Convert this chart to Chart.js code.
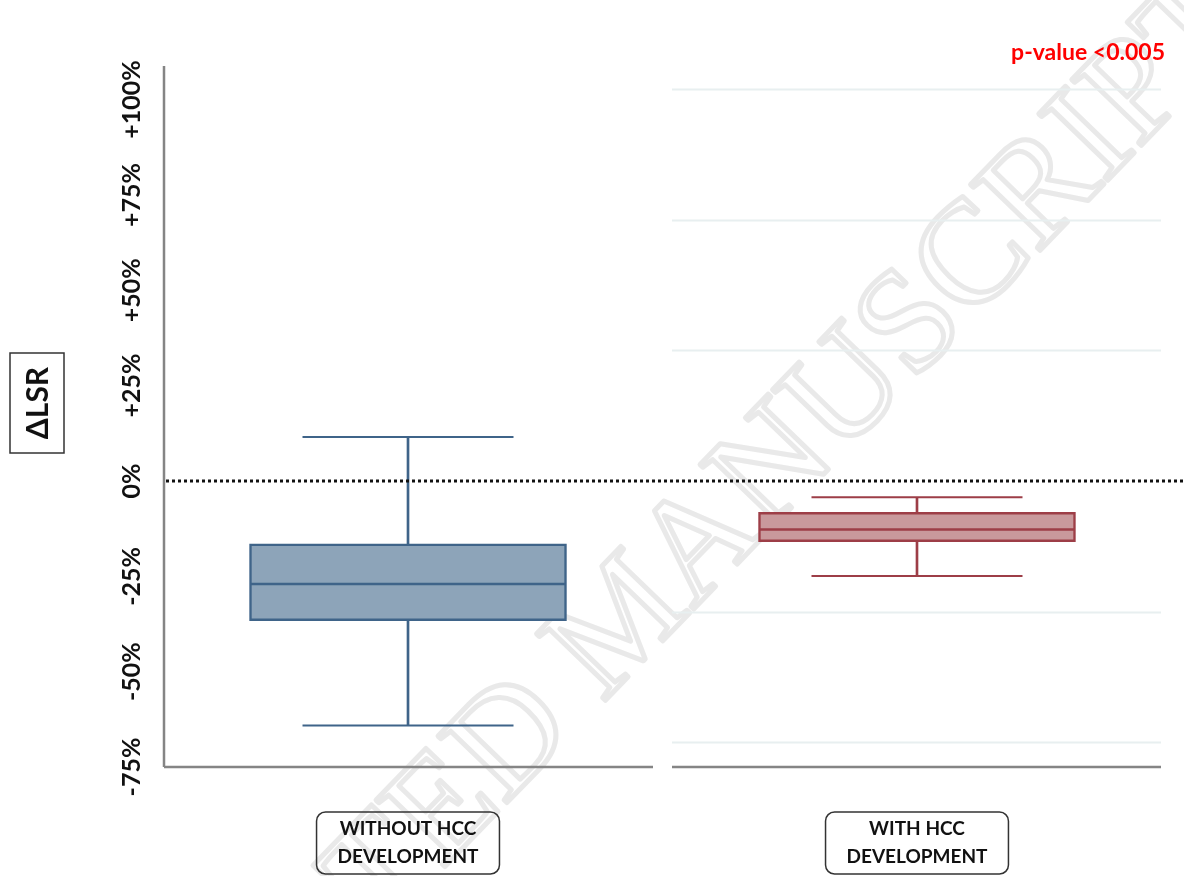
<!DOCTYPE html>
<html>
<head>
<meta charset="utf-8">
<script src="https://cdn.jsdelivr.net/npm/chart.js@4.4.1/dist/chart.umd.min.js"></script>
<style>
  html, body { margin: 0; padding: 0; background: #ffffff; }
  #wrap { width: 1184px; height: 876px; position: relative; }
</style>
</head>
<body>
<div id="wrap"><canvas id="c" width="1184" height="876"></canvas></div>
<script>
// Change in liver stiffness (ΔLSR, %) by HCC outcome
const groups = [['WITHOUT HCC', 'DEVELOPMENT'], ['WITH HCC', 'DEVELOPMENT']];
const whiskerLow  = [-64.1, -24.9];
const q1          = [-36.6, -15.9];
const median      = [-27.0, -12.7];
const q3          = [-16.5, -8.2];
const whiskerHigh = [11.5, -4.3];

const yTicks = [-75, -50, -25, 0, 25, 50, 75, 100];
const tickText = ['-75%', '-50%', '-25%', '0%', '+25%', '+50%', '+75%', '+100%'];
const panelGrid = [102.7, 68.5, 34.25, -34.25, -68.5];
const yTitle = 'ΔLSR';
const pValueText = 'p-value <0.005';
const stampText = ['ACCEPTED ', 'MANUSCRIPT'];

const fills   = ['#8da4b9', '#c9999c'];
const strokes = ['#3f6489', '#9d3e47'];

const FONT = 'Lato, "Open Sans", "DejaVu Sans", sans-serif';
const yMin = -75, yMax = 108.8;
const xMin = -0.4794, xMax = 1.4794;
const panelGap = 19;

const pts = arr => arr.map((v, i) => ({ x: i, y: v }));

const decor = {
  id: 'decor',
  beforeDraw(chart) {
    const { ctx, width, height } = chart;
    ctx.save();
    ctx.fillStyle = '#ffffff';
    ctx.fillRect(0, 0, width, height);
    // diagonal outlined stamp behind the plot
    ctx.translate(620, 630);
    ctx.rotate(-46 * Math.PI / 180);
    ctx.font = '146px "Liberation Serif", "DejaVu Serif", serif';
    ctx.textBaseline = 'middle';
    ctx.lineWidth = 5;
    ctx.lineJoin = 'round';
    ctx.strokeStyle = '#e9e9e9';
    const mHalf = ctx.measureText('M').width / 2;
    ctx.textAlign = 'left';
    ctx.strokeText(stampText[1], -mHalf, 0);
    ctx.textAlign = 'right';
    ctx.strokeText(stampText[0], -mHalf, 0);
    ctx.restore();
  },
  beforeDatasetsDraw(chart) {
    const { ctx, chartArea: a, scales: { x, y } } = chart;
    const mid = x.getPixelForValue(0.5);
    ctx.save();
    // faint reference lines of the right panel
    ctx.strokeStyle = '#e8eff0';
    ctx.lineWidth = 2;
    panelGrid.forEach(v => {
      const py = Math.round(y.getPixelForValue(v)) + 0.5;
      ctx.beginPath();
      ctx.moveTo(mid + panelGap / 2, py);
      ctx.lineTo(a.right, py);
      ctx.stroke();
    });
    // axes
    ctx.strokeStyle = '#858585';
    ctx.lineWidth = 2.5;
    ctx.beginPath();
    ctx.moveTo(a.left, a.top);
    ctx.lineTo(a.left, a.bottom);
    ctx.moveTo(a.left, a.bottom);
    ctx.lineTo(mid - panelGap / 2, a.bottom);
    ctx.moveTo(mid + panelGap / 2, a.bottom);
    ctx.lineTo(a.right, a.bottom);
    ctx.stroke();

    // rotated tick labels
    ctx.fillStyle = '#111111';
    ctx.font = 'bold 25px ' + FONT;
    ctx.textAlign = 'center';
    ctx.textBaseline = 'middle';
    yTicks.forEach((v, i) => {
      ctx.save();
      ctx.translate(a.left - 32, y.getPixelForValue(v));
      ctx.rotate(-Math.PI / 2);
      ctx.fillText(tickText[i], 0, 0);
      ctx.restore();
    });

    // boxed axis title
    ctx.save();
    ctx.translate(37, 403);
    ctx.rotate(-Math.PI / 2);
    ctx.font = 'bold 30px ' + FONT;
    ctx.fillText(yTitle, 0, 1);
    ctx.strokeStyle = '#333333';
    ctx.lineWidth = 1.5;
    ctx.strokeRect(-50, -27, 100, 54);
    ctx.restore();

    // category labels in rounded boxes
    ctx.font = 'bold 19px ' + FONT;
    groups.forEach((lines, i) => {
      const cx = x.getPixelForValue(i);
      const w = Math.max(...lines.map(t => ctx.measureText(t).width)) + 42;
      const h = 62, top = 812, r = 9;
      ctx.beginPath();
      ctx.roundRect(cx - w / 2, top, w, h, r);
      ctx.strokeStyle = '#333333';
      ctx.lineWidth = 1.5;
      ctx.stroke();
      ctx.fillStyle = '#111111';
      lines.forEach((t, k) => ctx.fillText(t, cx, top + 17 + k * 28));
    });

    // significance note
    ctx.fillStyle = '#ff0000';
    ctx.font = 'bold 23px ' + FONT;
    ctx.textAlign = 'right';
    ctx.fillText(pValueText, 1165, 53);
    ctx.restore();
  },
  afterDatasetsDraw(chart) {
    const { ctx, chartArea: a, scales: { y }, width } = chart;
    const py = y.getPixelForValue(0);
    ctx.save();
    ctx.strokeStyle = '#111111';
    ctx.lineWidth = 3;
    ctx.setLineDash([3, 3]);
    ctx.beginPath();
    ctx.moveTo(a.left + 2, py);
    ctx.lineTo(width, py);
    ctx.stroke();
    ctx.restore();
  }
};

new Chart(document.getElementById('c'), {
  type: 'bar',
  data: {
    datasets: [
      {
        type: 'scatter', label: 'median', order: 0,
        data: pts(median),
        pointStyle: 'line', pointRadius: 157, pointHoverRadius: 157,
        borderColor: strokes, borderWidth: 2.5
      },
      {
        type: 'bar', label: 'IQR', order: 1, grouped: false,
        data: q1.map((v, i) => ({ x: i, y: [v, q3[i]] })),
        backgroundColor: fills, borderColor: strokes,
        borderWidth: 2.5, borderSkipped: false, barThickness: 317
      },
      {
        type: 'scatter', label: 'upper cap', order: 2,
        data: pts(whiskerHigh),
        pointStyle: 'line', pointRadius: 105.5, pointHoverRadius: 105.5,
        borderColor: strokes, borderWidth: 2
      },
      {
        type: 'scatter', label: 'lower cap', order: 2,
        data: pts(whiskerLow),
        pointStyle: 'line', pointRadius: 105.5, pointHoverRadius: 105.5,
        borderColor: strokes, borderWidth: 2
      },
      {
        type: 'bar', label: 'range', order: 3, grouped: false,
        data: whiskerLow.map((v, i) => ({ x: i, y: [v, whiskerHigh[i]] })),
        backgroundColor: strokes, borderWidth: 0, barThickness: 2
      }
    ]
  },
  options: {
    responsive: false,
    devicePixelRatio: 1,
    animation: false,
    layout: { autoPadding: false, padding: { left: 164, right: 23, top: 66, bottom: 109 } },
    scales: {
      x: { type: 'linear', min: xMin, max: xMax, offset: false, display: false },
      y: { type: 'linear', min: yMin, max: yMax, display: false }
    },
    plugins: { legend: { display: false }, tooltip: { enabled: false } }
  },
  plugins: [decor]
});
</script>
</body>
</html>
